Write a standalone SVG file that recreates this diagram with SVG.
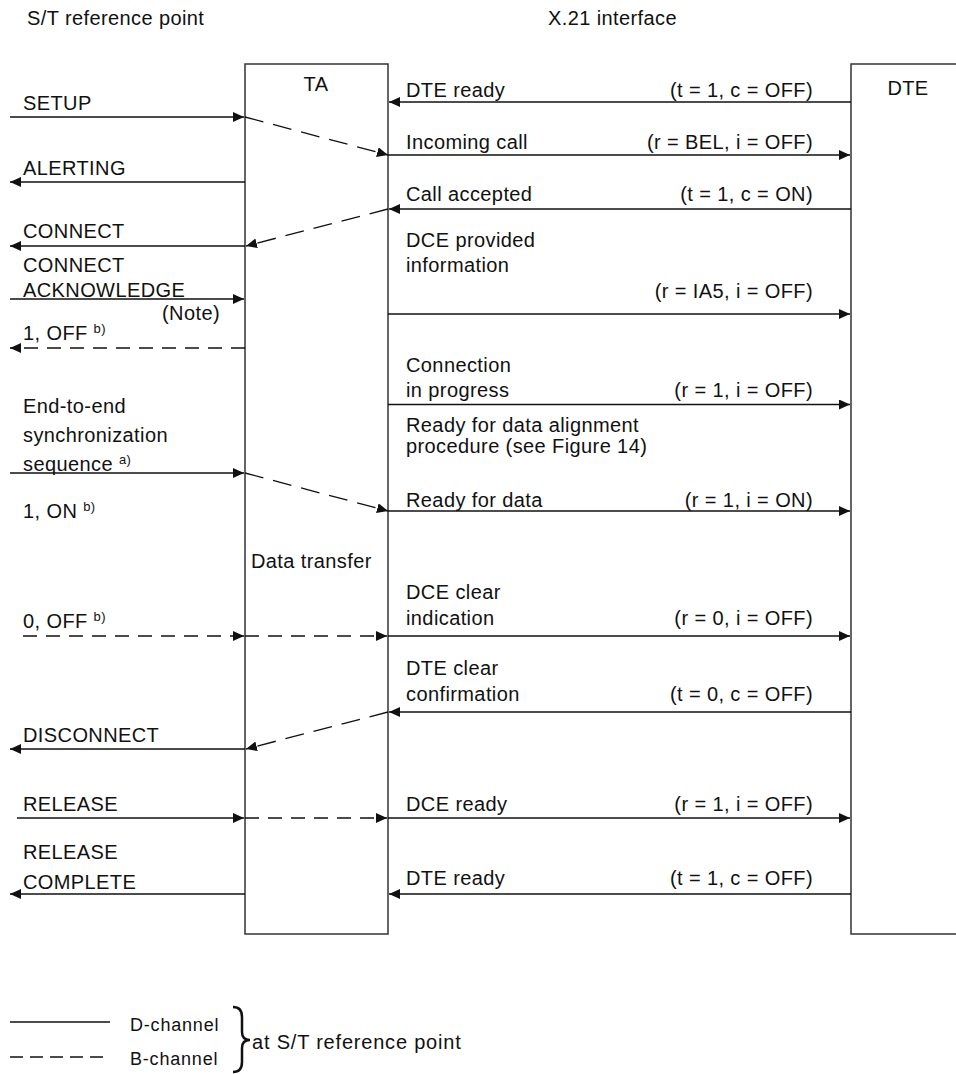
<svg xmlns="http://www.w3.org/2000/svg" width="956" height="1074" viewBox="0 0 956 1074">
<style>
text{font-family:"Liberation Sans",Arial,sans-serif;font-size:20px;letter-spacing:0.4px;fill:#111}
.r{text-anchor:end}
.sup{font-size:13px}
.box{fill:none;stroke:#333;stroke-width:1.5}
.s{fill:none;stroke:#111;stroke-width:1.3}
.d{fill:none;stroke:#111;stroke-width:1.3;stroke-dasharray:14 9}
.ds{fill:none;stroke:#111;stroke-width:1.3;stroke-dasharray:19 10}
.ar{marker-end:url(#ah)}
</style>
<defs>
<marker id="ah" markerUnits="userSpaceOnUse" markerWidth="12" markerHeight="11" refX="11" refY="5" orient="auto">
<path d="M0,0 L11,5 L0,10 z" fill="#111"/>
</marker>
</defs>
<rect width="956" height="1074" fill="#fff"/>
<text x="27" y="25">S/T reference point</text>
<text x="548" y="25">X.21 interface</text>

<g id="TA">
<rect class="box" x="245" y="64" width="143" height="870"/>
<text x="316" y="91" text-anchor="middle">TA</text>
<text x="251" y="568">Data transfer</text>
</g>
<g id="DTE">
<path class="box" d="M960,64 H851 V934 H960"/>
<text x="908" y="95" text-anchor="middle">DTE</text>
</g>

<g id="connectors">
<!-- right side -->
<line class="s ar" x1="851" y1="102" x2="389" y2="102"/>
<line class="s ar" x1="388" y1="155" x2="850" y2="155"/>
<line class="s ar" x1="851" y1="209" x2="389" y2="209"/>
<line class="s ar" x1="388" y1="314" x2="850" y2="314"/>
<line class="s ar" x1="388" y1="404.5" x2="850" y2="404.5"/>
<line class="s ar" x1="388" y1="511" x2="850" y2="511"/>
<line class="s ar" x1="388" y1="636" x2="850" y2="636"/>
<line class="s ar" x1="851" y1="712" x2="389" y2="712"/>
<line class="s ar" x1="388" y1="818" x2="850" y2="818"/>
<line class="s ar" x1="851" y1="894" x2="389" y2="894"/>
<!-- left side -->
<line class="s ar" x1="10" y1="117" x2="244" y2="117"/>
<line class="s ar" x1="245" y1="182" x2="10" y2="182"/>
<line class="s ar" x1="245" y1="246" x2="10" y2="246"/>
<line class="s ar" x1="10" y1="299" x2="244" y2="299"/>
<line class="d ar" x1="245" y1="348" x2="10" y2="348"/>
<line class="s ar" x1="10" y1="473" x2="244" y2="473"/>
<line class="d ar" x1="23" y1="636" x2="244" y2="636"/>
<line class="s ar" x1="245" y1="749" x2="10" y2="749"/>
<line class="s ar" x1="17" y1="818" x2="244" y2="818"/>
<line class="s ar" x1="245" y1="894" x2="10" y2="894"/>
<!-- through TA -->
<line class="ds ar" x1="245" y1="117" x2="388" y2="155"/>
<line class="ds ar" x1="388" y1="209" x2="246" y2="246"/>
<line class="ds ar" x1="245" y1="473" x2="388" y2="511"/>
<line class="d ar" x1="245" y1="636" x2="387" y2="636"/>
<line class="ds ar" x1="388" y1="712" x2="246" y2="749"/>
<line class="d ar" x1="245" y1="818" x2="387" y2="818"/>
</g>

<g id="labels-right">
<text x="406" y="97">DTE ready</text><text class="r" x="813" y="97">(t = 1, c = OFF)</text>
<text x="406" y="149">Incoming call</text><text class="r" x="813" y="149">(r = BEL, i = OFF)</text>
<text x="406" y="201">Call accepted</text><text class="r" x="813" y="201">(t = 1, c = ON)</text>
<text x="406" y="247">DCE provided</text>
<text x="406" y="272">information</text>
<text class="r" x="813" y="298">(r = IA5, i = OFF)</text>
<text x="406" y="372">Connection</text>
<text x="406" y="397">in progress</text><text class="r" x="813" y="397">(r = 1, i = OFF)</text>
<text x="406" y="432">Ready for data alignment</text>
<text x="406" y="453">procedure (see Figure 14)</text>
<text x="406" y="507">Ready for data</text><text class="r" x="813" y="507">(r = 1, i = ON)</text>
<text x="406" y="599">DCE clear</text>
<text x="406" y="625">indication</text><text class="r" x="813" y="625">(r = 0, i = OFF)</text>
<text x="406" y="675">DTE clear</text>
<text x="406" y="701">confirmation</text><text class="r" x="813" y="701">(t = 0, c = OFF)</text>
<text x="406" y="811">DCE ready</text><text class="r" x="813" y="811">(r = 1, i = OFF)</text>
<text x="406" y="885">DTE ready</text><text class="r" x="813" y="885">(t = 1, c = OFF)</text>
</g>

<g id="labels-left">
<text x="23" y="110">SETUP</text>
<text x="23" y="175">ALERTING</text>
<text x="23" y="238">CONNECT</text>
<text x="23" y="272">CONNECT</text>
<text x="23" y="297">ACKNOWLEDGE</text>
<text x="162" y="320">(Note)</text>
<text x="23" y="340">1, OFF <tspan class="sup" dy="-7">b)</tspan></text>
<text x="23" y="413">End-to-end</text>
<text x="23" y="442">synchronization</text>
<text x="23" y="471">sequence <tspan class="sup" dy="-7">a)</tspan></text>
<text x="23" y="518">1, ON <tspan class="sup" dy="-7">b)</tspan></text>
<text x="23" y="628">0, OFF <tspan class="sup" dy="-7">b)</tspan></text>
<text x="23" y="742">DISCONNECT</text>
<text x="23" y="811">RELEASE</text>
<text x="23" y="859">RELEASE</text>
<text x="23" y="889">COMPLETE</text>
</g>

<g id="legend">
<line class="s" x1="10" y1="1022" x2="110" y2="1022"/>
<line class="s" x1="10" y1="1057" x2="110" y2="1057" stroke-dasharray="13 7"/>
<text x="130" y="1031" style="font-size:18px;letter-spacing:0.8px">D-channel</text>
<text x="130" y="1065" style="font-size:18px;letter-spacing:0.8px">B-channel</text>
<path d="M233,1007 Q242,1007 242,1017 L242,1032 Q242,1040 250,1040 Q242,1040 242,1048 L242,1062 Q242,1072 233,1072" fill="none" stroke="#111" stroke-width="2.5"/>
<text x="252" y="1049" style="letter-spacing:0.8px">at S/T reference point</text>
</g>
</svg>
